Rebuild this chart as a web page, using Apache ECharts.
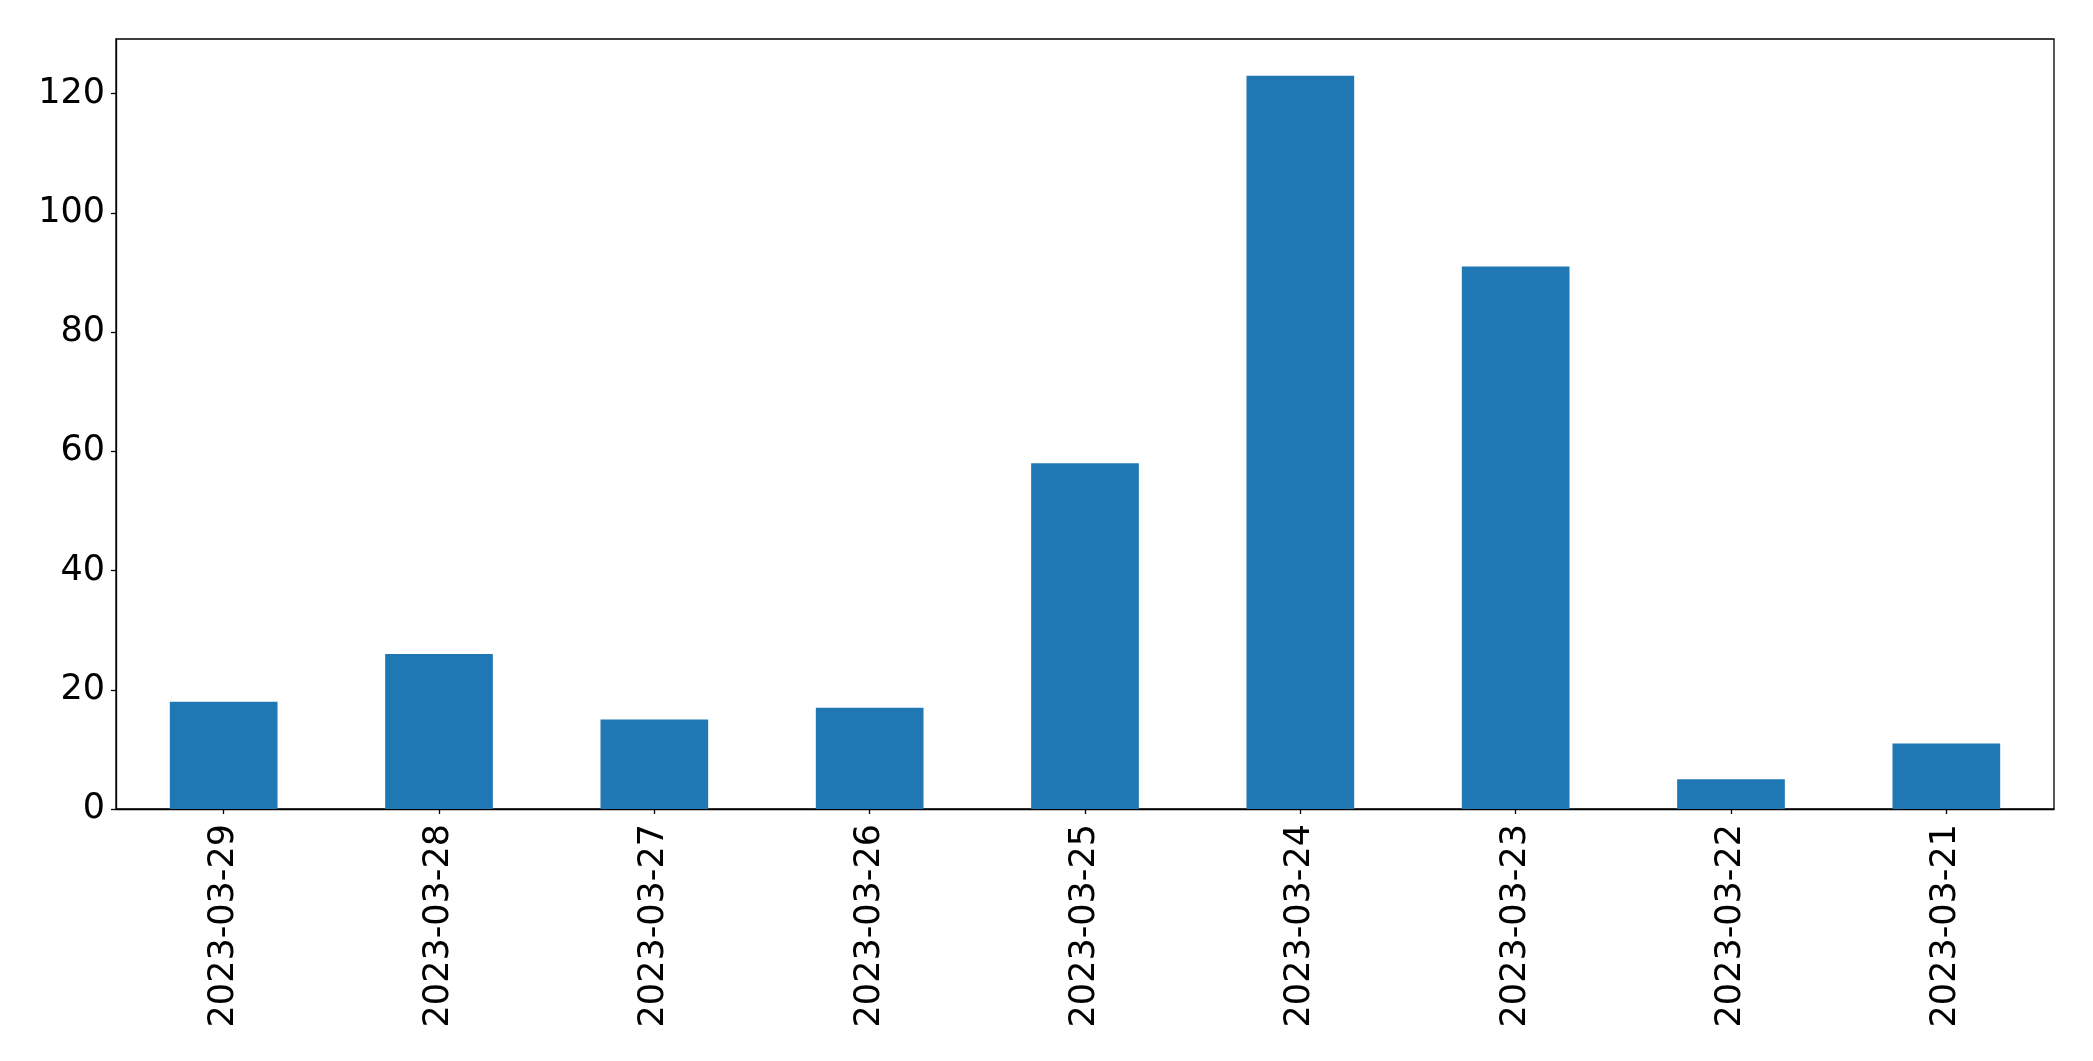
<!DOCTYPE html>
<html>
<head>
<meta charset="utf-8">
<script src="https://cdn.jsdelivr.net/npm/echarts@6/dist/echarts.min.js"></script>
<style>
html,body{margin:0;padding:0;background:#fff;}
#chart{width:2093px;height:1061px;}
</style>
</head>
<body>
<div id="chart"></div>
<script>
const categories = ['2023-03-29','2023-03-28','2023-03-27','2023-03-26','2023-03-25','2023-03-24','2023-03-23','2023-03-22','2023-03-21'];
const values = [18, 26, 15, 17, 58, 123, 91, 5, 11];
const yTicks = [0, 20, 40, 60, 80, 100, 120];

const chart = echarts.init(document.getElementById('chart'));
const FONT = 'DejaVu Sans';
chart.setOption({
  animation: false,
  backgroundColor: '#ffffff',
  grid: {
    left: 116, right: 2093 - 2054, top: 39, bottom: 1061 - 809,
    show: true, borderColor: '#000', borderWidth: 1.3, backgroundColor: 'transparent'
  },
  xAxis: {
    type: 'category',
    data: categories,
    axisLine: { show: true, lineStyle: { color: '#000', width: 1.3 } },
    axisTick: { show: true, alignWithLabel: true, length: 5, lineStyle: { color: '#000', width: 1.3 } },
    axisLabel: { rotate: 90, fontSize: 35, fontFamily: FONT, color: '#000', margin: 15, interval: 0 },
    splitLine: { show: false }
  },
  yAxis: {
    type: 'value',
    min: 0,
    max: 129.15,
    interval: 20,
    axisLine: { show: true, lineStyle: { color: '#000', width: 1.3 } },
    axisTick: { show: true, length: 5, customValues: yTicks, lineStyle: { color: '#000', width: 1.3 } },
    axisLabel: {
      fontSize: 35, fontFamily: FONT, color: '#000', margin: 11,
      customValues: yTicks,
      formatter: function (v) { return String(v); }
    },
    splitLine: { show: false }
  },
  series: [{
    type: 'bar',
    data: values,
    barWidth: '50%',
    itemStyle: { color: '#1f77b4' }
  }]
});
</script>
</body>
</html>
